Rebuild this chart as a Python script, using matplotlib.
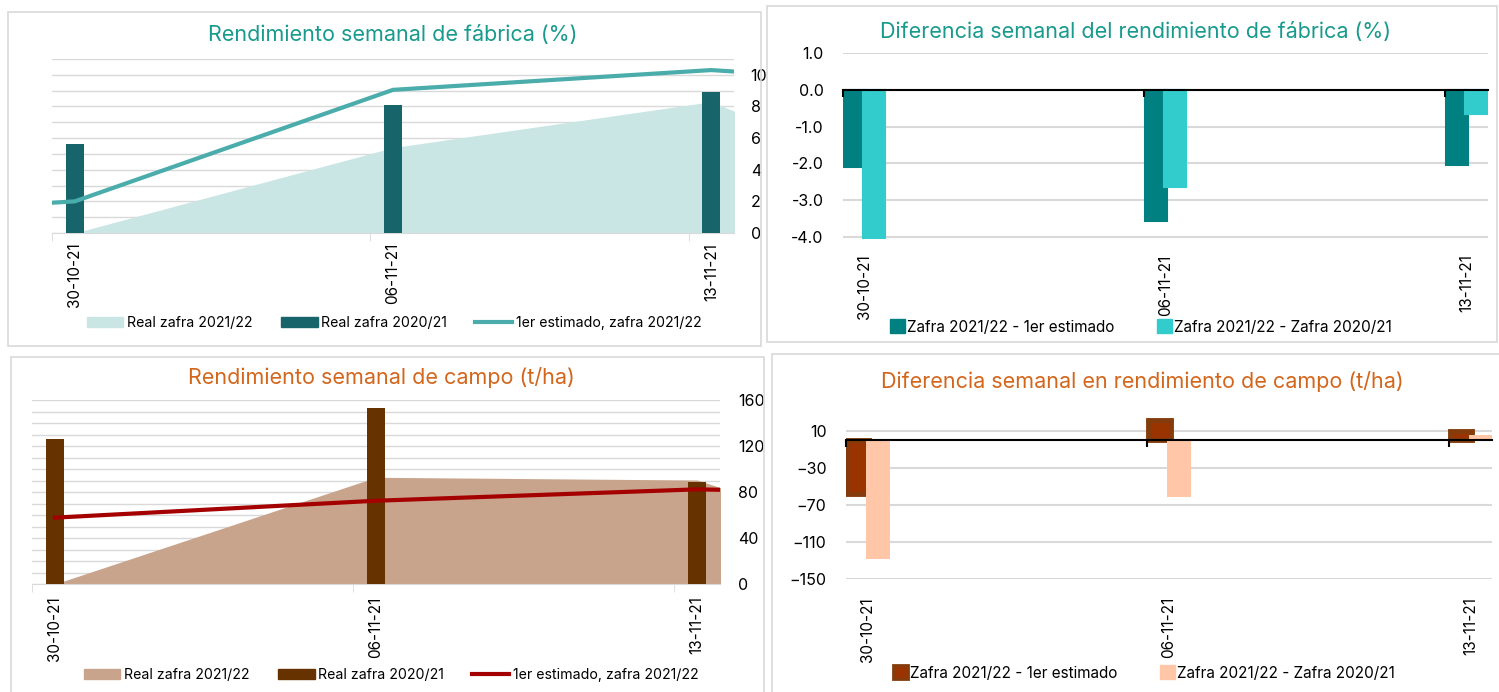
import matplotlib
matplotlib.use("Agg")
import matplotlib.pyplot as plt
from matplotlib.patches import Rectangle, Patch
from matplotlib.lines import Line2D
import numpy as np

plt.rcParams["font.family"] = ["Inter", "DejaVu Sans"]

# semanas (dias desde el 30-10-21)
fechas = ["30-10-21", "06-11-21", "13-11-21"]
dias = [0, 7, 14]
dias_area = [0, 7, 14, 21]

# rendimiento de fabrica (%)
fab_real_2122 = [0.0, 5.4, 8.3, 0.0]
fab_real_2021 = [5.65, 8.1, 8.9]
fab_est_dias = [-7, 0, 7, 14, 21]
fab_est_2122 = [0.8, 2.0, 9.05, 10.3, 9.0]

# diferencia fabrica
dif_fab_est = [-2.1, -3.57, -2.05]
dif_fab_2021 = [-4.05, -2.65, -0.65]

# rendimiento de campo (t/ha)
campo_real_2122 = [0.0, 92.8, 90.4, 0.0]
campo_real_2021 = [126, 153, 88.5]
campo_est_dias = [0, 7, 14, 21]
campo_est_2122 = [57.7, 72.4, 82.3, 77.0]

# diferencia campo
dif_campo_est = [-58, 21.5, 10]
dif_campo_2021 = [-128, -62, 5]

TEAL = "#189A8D"
ORANGE = "#D4661C"
GRID = "#D9D9D9"

W, H = 1499, 692
fig = plt.figure(figsize=(W / 100, H / 100), dpi=100)


def px_rect(x0, y0, x1, y1):
    return [x0 / W, 1 - y1 / H, (x1 - x0) / W, (y1 - y0) / H]


# marcos de cada grafico
for x0, y0, x1, y1 in [(8, 12, 761, 346), (767, 6, 1497, 342),
                       (11, 357, 764, 700), (772, 354, 1505, 700)]:
    fig.patches.append(Rectangle((x0 / W, 1 - y1 / H), (x1 - x0) / W, (y1 - y0) / H,
                                 transform=fig.transFigure, fill=False,
                                 edgecolor=GRID, lw=1.2))


def x_fechas(ax, pad):
    ax.set_xlim(-0.5, 14.5)
    ax.set_xticks(dias)
    ax.set_xticklabels(fechas, rotation=90, fontsize=11)
    ax.tick_params(axis="x", which="major", length=0, pad=pad)


def linea_cero(ax):
    lo, hi = ax.get_ylim()
    sec = ax.secondary_xaxis((0 - lo) / (hi - lo))
    sec.set_alignment("bottom")
    sec.set_xticks([d - 0.5 for d in dias])
    sec.set_xticklabels([])
    sec.tick_params(length=5, width=1.5, color="black", direction="out")
    sec.spines["bottom"].set_color("black")
    sec.spines["bottom"].set_linewidth(1.5)
    sec.set_zorder(5)


def limpiar(ax):
    for s in ax.spines.values():
        s.set_visible(False)
    ax.set_facecolor("none")


# ---------- 1: rendimiento fabrica ----------
ax1 = fig.add_axes(px_rect(52, 59, 734, 233))
limpiar(ax1)
ax1.fill_between(dias_area, fab_real_2122, color="#C9E6E5", lw=0, zorder=2)
ax1.bar(dias, fab_real_2021, width=0.4, color="#17656A", zorder=3)
ax1.plot(fab_est_dias, fab_est_2122, color="#4BACAC", lw=3, zorder=4)
ax1.set_ylim(0, 11)
ax1.set_yticks(np.arange(0, 11, 2))
ax1.set_yticks(np.arange(0, 12, 1), minor=True)
ax1.grid(axis="y", which="both", color=GRID, lw=1, zorder=0)
ax1.set_axisbelow(True)
ax1.yaxis.tick_right()
ax1.tick_params(axis="y", which="both", length=0, labelsize=11.5, pad=12)
x_fechas(ax1, 7)
ax1.spines["bottom"].set_visible(True)
ax1.spines["bottom"].set_color(GRID)
ax1.set_xticks([d - 0.5 for d in dias], minor=True)
ax1.tick_params(axis="x", which="minor", length=6, color=GRID)
fig.text(393 / W, 1 - 35 / H, "Rendimiento semanal de fábrica (%)", color=TEAL,
         fontsize=15.5, ha="center", va="center")
ax1.legend(handles=[Patch(color="#C9E6E5", label="Real zafra 2021/22"),
                    Patch(color="#17656A", label="Real zafra 2020/21"),
                    Line2D([], [], color="#4BACAC", lw=3, label="1er estimado, zafra 2021/22")],
           loc="center", bbox_to_anchor=(394 / W, 1 - 323 / H), bbox_transform=fig.transFigure,
           ncol=3, frameon=False, fontsize=10.2, handlelength=2.6, handleheight=0.7,
           handletextpad=0.25, columnspacing=2.0)

# ---------- 2: diferencia fabrica ----------
ax2 = fig.add_axes(px_rect(843, 53, 1488, 239))
limpiar(ax2)
ax2.bar([d - 0.22 for d in dias], dif_fab_est, width=0.53, color="#008080",
        edgecolor="#008080", lw=1.5, zorder=3)
ax2.bar([d + 0.22 for d in dias], dif_fab_2021, width=0.53, color="#33CCCC",
        edgecolor="#33CCCC", lw=1.5, zorder=3)
ax2.set_ylim(-4.05, 1.0)
ax2.set_yticks(np.arange(-4, 1.5, 1.0))
ax2.set_yticklabels([f"{v:.1f}" for v in np.arange(-4, 1.5, 1.0)])
ax2.grid(axis="y", color=GRID, lw=1.5, zorder=0)
ax2.set_axisbelow(True)
ax2.tick_params(axis="y", length=0, labelsize=11.5, pad=14)
x_fechas(ax2, 11)
linea_cero(ax2)
fig.text(1136 / W, 1 - 32 / H, "Diferencia semanal del rendimiento de fábrica (%)", color=TEAL,
         fontsize=15.5, ha="center", va="center")
ax2.legend(handles=[Patch(color="#008080", label="Zafra 2021/22 - 1er estimado"),
                    Patch(color="#33CCCC", label="Zafra 2021/22 - Zafra 2020/21")],
           loc="center", bbox_to_anchor=(1141 / W, 1 - 327 / H), bbox_transform=fig.transFigure,
           ncol=2, frameon=False, fontsize=11, handlelength=1.0, handleheight=1.0,
           handletextpad=0.1, columnspacing=2.8)

# ---------- 3: rendimiento campo ----------
ax3 = fig.add_axes(px_rect(32, 400, 720, 584))
limpiar(ax3)
ax3.fill_between(dias_area, campo_real_2122, color="#C8A48C", lw=0, zorder=2)
ax3.bar(dias, campo_real_2021, width=0.4, color="#663300", zorder=3)
ax3.plot(campo_est_dias, campo_est_2122, color="#A50000", lw=3, zorder=4)
ax3.set_ylim(0, 160)
ax3.set_yticks(np.arange(0, 161, 40))
ax3.set_yticks(np.arange(0, 161, 10), minor=True)
ax3.grid(axis="y", which="both", color=GRID, lw=1, zorder=0)
ax3.set_axisbelow(True)
ax3.yaxis.tick_right()
ax3.tick_params(axis="y", which="both", length=0, labelsize=11.5, pad=13)
x_fechas(ax3, 9)
ax3.spines["bottom"].set_visible(True)
ax3.spines["bottom"].set_color(GRID)
ax3.set_xticks([d - 0.5 for d in dias], minor=True)
ax3.tick_params(axis="x", which="minor", length=6, color=GRID)
fig.text(381 / W, 1 - 378 / H, "Rendimiento semanal de campo (t/ha)", color=ORANGE,
         fontsize=15.5, ha="center", va="center")
ax3.legend(handles=[Patch(color="#C8A48C", label="Real zafra 2021/22"),
                    Patch(color="#663300", label="Real zafra 2020/21"),
                    Line2D([], [], color="#A50000", lw=3, label="1er estimado, zafra 2021/22")],
           loc="center", bbox_to_anchor=(391 / W, 1 - 675 / H), bbox_transform=fig.transFigure,
           ncol=3, frameon=False, fontsize=10.2, handlelength=2.6, handleheight=0.7,
           handletextpad=0.25, columnspacing=2.0)

# ---------- 4: diferencia campo ----------
ax4 = fig.add_axes(px_rect(846, 412, 1492, 579))
limpiar(ax4)
ax4.bar([d - 0.22 for d in dias], dif_campo_est, width=0.52, color="#993300",
        edgecolor="#843C0C", lw=3.5, zorder=3)
ax4.bar([d + 0.24 for d in dias], dif_campo_2021, width=0.56, color="#FFC6A8", zorder=3)
ax4.set_ylim(-150, 30)
ax4.set_yticks(np.arange(-150, 11, 40))
ax4.grid(axis="y", color=GRID, lw=1.5, zorder=0)
ax4.set_axisbelow(True)
ax4.tick_params(axis="y", length=0, labelsize=11.5, pad=14)
x_fechas(ax4, 13)
linea_cero(ax4)
fig.text(1142 / W, 1 - 381 / H, "Diferencia semanal en rendimiento de campo (t/ha)", color=ORANGE,
         fontsize=15.5, ha="center", va="center")
ax4.legend(handles=[Patch(facecolor="#993300", edgecolor="#843C0C", lw=2,
                          label="Zafra 2021/22 - 1er estimado"),
                    Patch(color="#FFC6A8", label="Zafra 2021/22 - Zafra 2020/21")],
           loc="center", bbox_to_anchor=(1144 / W, 1 - 673 / H), bbox_transform=fig.transFigure,
           ncol=2, frameon=False, fontsize=11, handlelength=1.0, handleheight=1.0,
           handletextpad=0.1, columnspacing=2.8)

fig.savefig("out.png", dpi=100)
